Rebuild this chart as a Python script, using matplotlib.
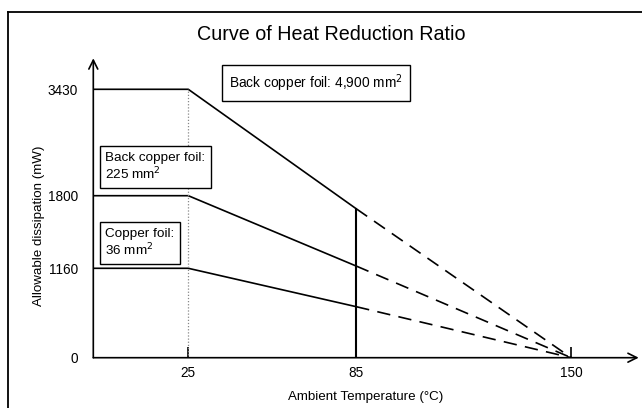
import numpy as np
import matplotlib
matplotlib.use('Agg')
import matplotlib.pyplot as plt
from matplotlib.lines import Line2D

plt.rcParams['font.family'] = ['Liberation Sans', 'DejaVu Sans']

# Data
temps = [0, 25, 85]          # solid part
temps_dash = [85, 150]       # extrapolated (dashed) part
foil_4900 = [3430, 3430, 1685]
foil_225 = [1800, 1800, 1180]
foil_36 = [1160, 1160, 662]
end_value = 0

x_ticks = [25, 85, 150]
y_ticks = [0, 1160, 1800, 3430]

# schematic (non-uniform) axes: break points -> pixel positions
x_break = [0, 25, 85, 150, 175]
x_pos = [93.3, 188.3, 356.2, 571.2, 638.7]
y_break = [0, 1160, 1800, 3430, 3800]
y_pos = [0, 89.4, 162.0, 268.4, 299.4]

W, H = 642, 408
fig = plt.figure(figsize=(W / 100, H / 100), dpi=100)
ax = fig.add_axes([93.3 / W, (H - 357.7) / H, (638.7 - 93.3) / W, (357.7 - 58.3) / H])

ax.set_xscale('function', functions=(lambda v: np.interp(v, x_break, x_pos),
                                     lambda p: np.interp(p, x_pos, x_break)))
ax.set_yscale('function', functions=(lambda v: np.interp(v, y_break, y_pos),
                                     lambda p: np.interp(p, y_pos, y_break)))
ax.set_xlim(0, 175)
ax.set_ylim(0, 3800)

lw = 1.2
for vals in [foil_4900, foil_225, foil_36]:
    ax.plot(temps, vals, color='black', lw=lw, solid_capstyle='butt')
    ax.plot(temps_dash, [vals[-1], end_value], color='black', lw=lw, dashes=(8, 5))

# reference lines at 25 and 85
ax.plot([25, 25], [0, foil_4900[0]], color='#888888', lw=0.9, ls=(0, (1, 1.5)))
ax.plot([85, 85], [0, foil_4900[2]], color='black', lw=1.5)

for s in ax.spines.values():
    s.set_visible(False)
ax.annotate('', xy=(0, 1.0), xytext=(0, 0), xycoords='axes fraction',
            arrowprops=dict(arrowstyle='->', lw=1.2, color='black', mutation_scale=16,
                            shrinkA=0, shrinkB=0))
ax.annotate('', xy=(1.0, 0), xytext=(0, 0), xycoords='axes fraction',
            arrowprops=dict(arrowstyle='->', lw=1.2, color='black', mutation_scale=16,
                            shrinkA=0, shrinkB=0))

ax.set_xticks(x_ticks)
ax.set_xticklabels([str(t) for t in x_ticks], fontsize=9.8)
ax.set_yticks(y_ticks)
ax.set_yticklabels([str(t) for t in y_ticks], fontsize=9.8)
ax.tick_params(axis='x', direction='in', length=8, width=1.2, pad=6)
ax.tick_params(axis='y', length=0, pad=11)
ax.xaxis.get_major_ticks()[1].tick1line.set_visible(False)

ax.set_xlabel('Ambient Temperature (°C)', fontsize=9.6, labelpad=8)
ax.set_ylabel('Allowable dissipation (mW)', fontsize=9.6)
ax.yaxis.set_label_coords(-0.089, 0.44)

# figure title
fig.text(331.7 / W, 1 - 35 / H, 'Curve of Heat Reduction Ratio', fontsize=14.2,
         ha='center', va='center')

# note boxes
box = dict(boxstyle='square,pad=0.5', fc='white', ec='black', lw=1.0)
fig.text(229 / W, 1 - 83 / H, 'Back copper foil: 4,900 mm$^2$', fontsize=9.9,
         ha='left', va='center', bbox=box)
box2 = dict(boxstyle='square,pad=0.4', fc='white', ec='black', lw=1.0)
fig.text(105 / W, 1 - 167 / H, 'Back copper foil:\n225 mm$^2$', fontsize=9.7,
         ha='left', va='center', bbox=box2, linespacing=1.15)
fig.text(105 / W, 1 - 243 / H, 'Copper foil:\n36 mm$^2$', fontsize=9.7,
         ha='left', va='center', bbox=box2, linespacing=1.15)

# frame (top and left edges)
fig.add_artist(Line2D([8 / W, 1.0], [1 - 12 / H, 1 - 12 / H], color='black', lw=1.3))
fig.add_artist(Line2D([8 / W, 8 / W], [1 - 12 / H, 0], color='black', lw=1.3))

fig.savefig('out.png', dpi=100)
